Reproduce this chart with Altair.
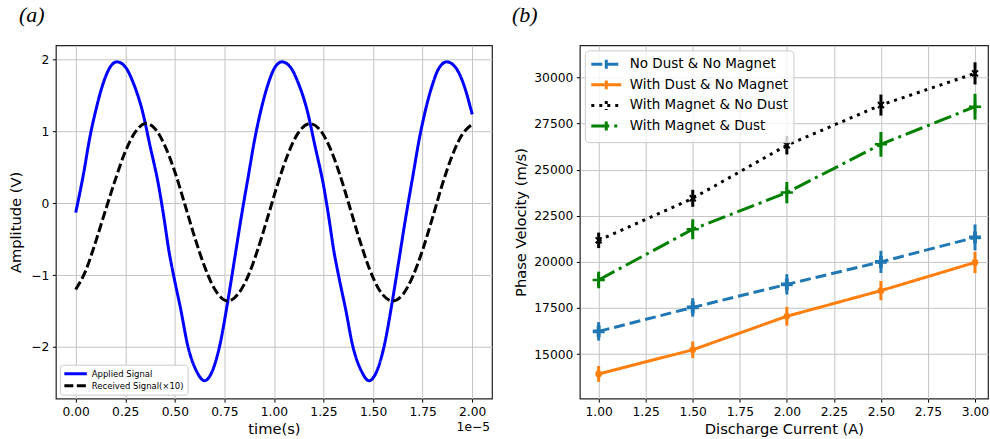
import altair as alt
import pandas as pd

# ---------------- panel (a) data (t in units of 1e-5 s) ----------------
series_a = ["Applied Signal", "Received Signal(×10)"]
applied_t = [0.000, 0.040, 0.070, 0.100, 0.135, 0.170, 0.208, 0.250, 0.290, 0.335,
             0.375, 0.420, 0.445, 0.470, 0.495, 0.530, 0.565, 0.610, 0.650, 0.690,
             0.725, 0.768, 0.800, 0.834, 0.872, 0.902, 0.932, 0.967, 1.002, 1.040,
             1.082, 1.122, 1.167, 1.207, 1.252, 1.277, 1.302, 1.327, 1.362, 1.397,
             1.442, 1.480, 1.520, 1.555, 1.598, 1.630, 1.664, 1.702, 1.732, 1.762,
             1.797, 1.832, 1.872, 1.914, 1.954, 2.000]
applied_v = [-0.13, 0.42, 0.90, 1.28, 1.64, 1.88, 1.97, 1.90, 1.68, 1.30,
             0.80, 0.22, -0.20, -0.66, -1.02, -1.48, -1.98, -2.34, -2.47, -2.33,
             -2.00, -1.35, -0.80, -0.21, 0.40, 0.88, 1.27, 1.63, 1.88, 1.97,
             1.90, 1.68, 1.30, 0.80, 0.22, -0.20, -0.66, -1.02, -1.48, -1.98,
             -2.34, -2.47, -2.33, -2.00, -1.35, -0.80, -0.21, 0.40, 0.88, 1.27,
             1.63, 1.88, 1.97, 1.90, 1.68, 1.24]
received_t = [0.00, 0.05, 0.10, 0.15, 0.20, 0.25, 0.30, 0.355, 0.40, 0.45,
              0.50, 0.55, 0.60, 0.65, 0.70, 0.768, 0.82, 0.87, 0.92, 0.97,
              1.02, 1.07, 1.12, 1.183, 1.23, 1.28, 1.33, 1.38, 1.43, 1.48,
              1.53, 1.60, 1.65, 1.70, 1.75, 1.80, 1.85, 1.90, 1.95, 2.00]
received_v = [-1.20, -0.94, -0.54, -0.10, 0.33, 0.72, 0.99, 1.11, 1.04, 0.80,
              0.44, -0.01, -0.47, -0.88, -1.19, -1.36, -1.26, -1.01, -0.63, -0.18,
              0.28, 0.68, 0.97, 1.11, 1.03, 0.79, 0.42, -0.03, -0.49, -0.90,
              -1.20, -1.36, -1.27, -1.02, -0.65, -0.20, 0.27, 0.67, 0.96, 1.10]
x_ticks_a = [0.0, 0.25, 0.5, 0.75, 1.0, 1.25, 1.5, 1.75, 2.0]
y_ticks_a = [-2, -1, 0, 1, 2]

# ---------------- panel (b) data ----------------
series_b = ["No Dust & No Magnet", "With Dust & No Magnet",
            "With Magnet & No Dust", "With Magnet & Dust"]
currents = [1.0, 1.5, 2.0, 2.5, 3.0]
no_dust_no_magnet = [16230, 17530, 18780, 20000, 21330]
no_dust_no_magnet_err = [500, 500, 550, 600, 700]
dust_no_magnet = [13920, 15230, 17050, 18440, 19970]
dust_no_magnet_err = [430, 450, 510, 520, 580]
magnet_no_dust = [21170, 23450, 26330, 28510, 30230]
magnet_no_dust_err = [420, 460, 500, 570, 600]
magnet_dust = [19020, 21770, 23760, 26380, 28420]
magnet_dust_err = [450, 540, 580, 670, 700]
x_ticks_b = [1.0, 1.25, 1.5, 1.75, 2.0, 2.25, 2.5, 2.75, 3.0]
y_ticks_b = [15000, 17500, 20000, 22500, 25000, 27500, 30000]

colors_b = ["#1f77b4", "#ff7f0e", "#000000", "#008000"]
dashes_b = [[11, 5], [1, 0], [3, 5], [18, 5, 3, 5]]

FONT = "DejaVu Sans"
TICK = 12.3
TITLE = 14.7

# ---------------- panel (a) ----------------
df_a = pd.concat([
    pd.DataFrame({"t": applied_t, "v": applied_v, "sig": series_a[0]}),
    pd.DataFrame({"t": received_t, "v": received_v, "sig": series_a[1]}),
])

legend_a = alt.Legend(
    title=None, orient="bottom-left", offset=4, padding=3,
    fillColor="white", strokeColor="#cccccc", cornerRadius=3,
    labelFont=FONT, labelFontSize=8.5, labelColor="black",
    symbolType="M-1,0H4", symbolSize=81, symbolStrokeWidth=3,
    labelOffset=17, rowPadding=0,
)

xa = alt.X("t:Q", scale=alt.Scale(domain=[-0.1, 2.1], nice=False, zero=False),
           axis=alt.Axis(values=x_ticks_a, format=".2f", title="time(s)"))
ya = alt.Y("v:Q", scale=alt.Scale(domain=[-2.72, 2.2], nice=False, zero=False),
           axis=alt.Axis(values=y_ticks_a, format="d", title="Amplitude (V)", titlePadding=7))

lines_a = alt.Chart(df_a).mark_line(strokeWidth=3, interpolate="monotone").encode(
    x=xa, y=ya,
    color=alt.Color("sig:N", scale=alt.Scale(domain=series_a, range=["#0000ff", "#000000"]),
                    legend=legend_a),
    strokeDash=alt.StrokeDash("sig:N", scale=alt.Scale(domain=series_a, range=[[1, 0], [9, 3.5]]),
                              legend=legend_a),
)

offset_text = alt.Chart(pd.DataFrame({"txt": ["1e−5"]})).mark_text(
    align="right", baseline="alphabetic", font=FONT, fontSize=TICK, color="black"
).encode(text="txt:N", x=alt.value(435), y=alt.value(386))

left = alt.layer(lines_a, offset_text).properties(
    width=437, height=354,
    title=alt.TitleParams("(a)", anchor="start", frame="group", dx=-37, offset=1,
                          baseline="alphabetic", font="Liberation Serif", fontStyle="italic",
                          fontWeight="normal", fontSize=22, color="black"),
)

# ---------------- panel (b) ----------------
vals = [no_dust_no_magnet, dust_no_magnet, magnet_no_dust, magnet_dust]
errs = [no_dust_no_magnet_err, dust_no_magnet_err, magnet_no_dust_err, magnet_dust_err]
frames = []
for name, v, e in zip(series_b, vals, errs):
    frames.append(pd.DataFrame({
        "current": currents, "vel": v, "err": e, "series": name,
        "lo": [a - b for a, b in zip(v, e)], "hi": [a + b for a, b in zip(v, e)],
    }))
df_b = pd.concat(frames)

xb = alt.X("current:Q", scale=alt.Scale(domain=[0.9, 3.069], nice=False, zero=False),
           axis=alt.Axis(values=x_ticks_b, format=".2f", title="Discharge Current (A)"))
yb_scale = alt.Scale(domain=[12580, 31750], nice=False, zero=False)
yb = alt.Y("vel:Q", scale=yb_scale,
           axis=alt.Axis(values=y_ticks_b, format="d", title="Phase Velocity (m/s)", titlePadding=5))

legend_b = alt.Legend(
    title=None, orient="top-left", offset=5, padding=5,
    fillColor="rgba(255,255,255,0.8)", strokeColor="#cccccc", cornerRadius=4,
    labelFont=FONT, labelFontSize=13.5, labelColor="black",
    symbolType="M-1,0H3M1,-0.6V0.6", symbolSize=225, symbolStrokeWidth=3,
    labelOffset=22, rowPadding=-1.4,
)

lines_b = alt.Chart(df_b).mark_line(strokeWidth=3).encode(
    x=xb, y=yb,
    color=alt.Color("series:N", scale=alt.Scale(domain=series_b, range=colors_b), legend=legend_b),
    strokeDash=alt.StrokeDash("series:N", scale=alt.Scale(domain=series_b, range=dashes_b),
                              legend=legend_b),
)

layers_b = [lines_b]
marker_specs = [
    dict(shape="M-0.33,-1H0.33V-0.33H1V0.33H0.33V1H-0.33V0.33H-1V-0.33H-0.33Z", filled=True, size=140, strokeWidth=0),
    dict(shape="circle", filled=True, size=45, strokeWidth=0),
    dict(shape="M-1,-1L1,1M1,-1L-1,1", filled=False, size=36, strokeWidth=2),
    dict(shape="M-1,0L1,0M0,-1L0,1", filled=False, size=150, strokeWidth=2.5),
]
for name, col, spec in zip(series_b, colors_b, marker_specs):
    sub = df_b[df_b["series"] == name]
    layers_b.append(
        alt.Chart(sub).mark_rule(strokeWidth=3, color=col).encode(
            x=alt.X("current:Q"), y=alt.Y("lo:Q", scale=yb_scale), y2="hi:Q")
    )
    layers_b.append(
        alt.Chart(sub).mark_point(opacity=1, color=col, **spec).encode(
            x=alt.X("current:Q"), y=alt.Y("vel:Q", scale=yb_scale))
    )

right = alt.layer(*layers_b).properties(
    width=409, height=354,
    title=alt.TitleParams("(b)", anchor="start", frame="group", dx=-68, offset=1,
                          baseline="alphabetic", font="Liberation Serif", fontStyle="italic",
                          fontWeight="normal", fontSize=22, color="black"),
)

chart = alt.hconcat(left, right, spacing=88, bounds="flush").resolve_scale(
    color="independent", strokeDash="independent", x="independent", y="independent"
).resolve_legend(
    color="independent", strokeDash="independent"
).properties(
    padding={"left": 8, "top": 3, "right": 0, "bottom": 0},
    background="white",
).configure_view(
    stroke="#222222", strokeWidth=1.2
).configure_axis(
    labelFont=FONT, labelFontSize=TICK, labelColor="black",
    titleFont=FONT, titleFontSize=TITLE, titleFontWeight="normal", titleColor="black",
    grid=True, gridColor="#c4c4c4", gridWidth=1,
    domain=False, tickColor="black", tickSize=3.5, tickWidth=1,
    labelPadding=3.5, titlePadding=4,
)

chart.save("out.html", embed_options={"renderer": "svg", "actions": False})
